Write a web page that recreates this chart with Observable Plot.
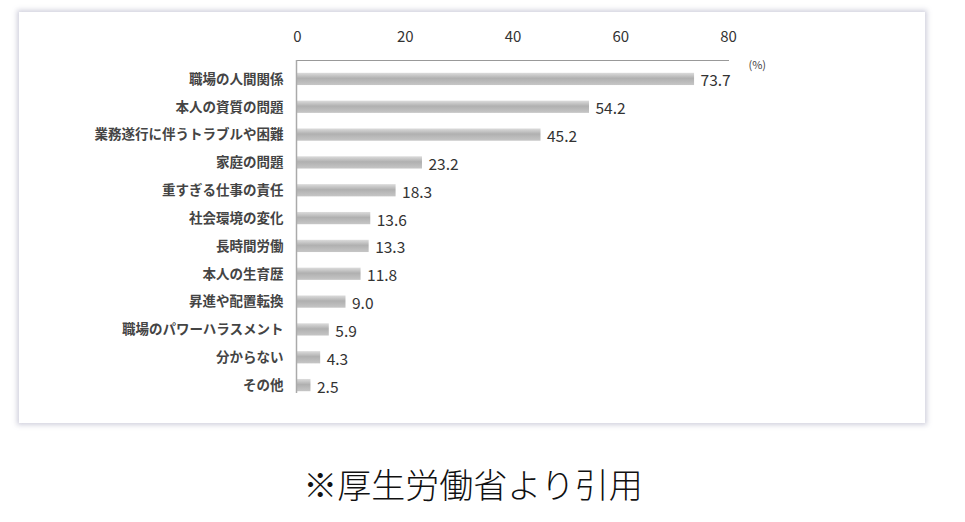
<!DOCTYPE html>
<html><head><meta charset="utf-8">
<script src="https://cdn.jsdelivr.net/npm/d3@7"></script>
<script src="https://cdn.jsdelivr.net/npm/@observablehq/plot@0.6"></script>
<style>
html,body{margin:0;padding:0;background:#fff;width:965px;height:522px;overflow:hidden;}
#panel{position:absolute;left:19px;top:12px;width:906px;height:411px;background:#fff;box-shadow:0 0 5px 2px rgba(200,200,215,0.85);}
#chart{position:absolute;left:0;top:0;}
#caption{position:absolute;left:0;width:946px;top:459px;text-align:center;font-family:"Noto Sans CJK JP",sans-serif;font-size:34px;color:#111;font-weight:300;}
</style></head>
<body>
<div id="panel"></div>
<div id="chart"></div>
<div id="caption">※厚生労働省より引用</div>
<script>
const categories = ["職場の人間関係","本人の資質の問題","業務遂行に伴うトラブルや困難","家庭の問題","重すぎる仕事の責任","社会環境の変化","長時間労働","本人の生育歴","昇進や配置転換","職場のパワーハラスメント","分からない","その他"];
const values = [73.7,54.2,45.2,23.2,18.3,13.6,13.3,11.8,9.0,5.9,4.3,2.5];
const xTicks = [0,20,40,60,80];
const unitLabel = "(%)";

const data = categories.map((c,i)=>({cat:c, v:values[i]}));

const plot = Plot.plot({
  width: 965,
  height: 430,
  marginLeft: 297,
  marginRight: 237,
  marginTop: 65,
  marginBottom: 31,
  style: {background: "transparent", fontFamily: "'Noto Sans CJK JP', sans-serif", color: "#333"},
  x: {domain: [0,80]},
  y: {domain: categories, paddingInner: 0.56, paddingOuter: 0.28, round: false},
  marks: [
    Plot.axisX({anchor: "top", ticks: xTicks, tickSize: 0, tickPadding: 24, label: null, fontSize: 15, fill: "#333"}),
    Plot.axisY({anchor: "left", tickSize: 0, tickPadding: 14, label: null, fontSize: 13.5, fontWeight: "bold", fill: "#444"}),
    Plot.barX(data, {x: "v", y: "cat", fill: "url(#barGrad)"}),
    Plot.text(data, {x: "v", y: "cat", text: d => d.v.toFixed(1), textAnchor: "start", dx: 6, dy: 2, fontSize: 15.5, fill: "#333"}),
    Plot.text([unitLabel], {frameAnchor: "top-right", textAnchor: "start", dx: 20, dy: -4, fontSize: 11, fill: "#444"})
  ]
});
const svg = d3.select(plot);
const defs = svg.insert("defs", ":first-child");
const g = defs.append("linearGradient").attr("id","barGrad").attr("x1",0).attr("y1",0).attr("x2",0).attr("y2",1);
g.append("stop").attr("offset","0%").attr("stop-color","#dcdcdc");
g.append("stop").attr("offset","45%").attr("stop-color","#b0b0b0");
g.append("stop").attr("offset","100%").attr("stop-color","#c6c6c6");
// axis frame lines derived from scales
const xs = plot.scale("x"), ys = plot.scale("y");
const x0 = xs.apply(0), x80 = xs.apply(80);
const yTop = ys.range[0] - 5, yBot = ys.range[1] - 6;
svg.append("line").attr("x1",x0).attr("x2",x80 + 1).attr("y1",yTop + 0.5).attr("y2",yTop + 0.5).attr("stroke","#999").attr("stroke-width",1.2);
svg.append("line").attr("x1",x0 - 0.5).attr("x2",x0 - 0.5).attr("y1",yTop).attr("y2",yBot).attr("stroke","#aaa").attr("stroke-width",1.5);
document.getElementById("chart").appendChild(plot);
</script>
</body></html>
